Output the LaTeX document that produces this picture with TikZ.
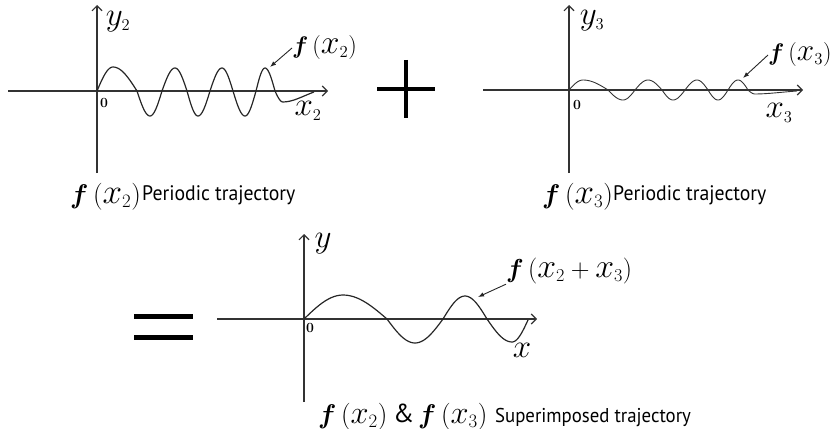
\RequirePackage{fix-cm}
\documentclass[tikz,border=0pt]{standalone}
\usepackage{graphicx}
\usepackage{fontspec}
\setsansfont{PT Sans}
\newfontfamily\capsans{PT Sans}[FakeStretch=0.94]
\usetikzlibrary{arrows.meta}
% quarter waves: crossing -> extremum, extremum -> crossing
\newcommand\wqa[4]{--plot[domain=0:90,samples=14,variable=\tq]({#1+(#3-#1)*\tq/90},{#2+(#4-#2)*sin(\tq)})}
\newcommand\wqb[4]{--plot[domain=0:90,samples=14,variable=\tq]({#1+(#3-#1)*\tq/90},{#4+(#2-#4)*cos(\tq)})}
\newcommand\boldf{\mbox{\boldmath$f$}}
\newcommand\wx[1]{\mbox{\scalebox{#1}{$x$}}}
\tikzset{
  axis/.style={draw=black!80, line width=1.1pt, -{Straight Barb[length=5pt,width=10pt]}},
  wave/.style={draw=black!85, line width=1.2pt, line join=round},
  thinwave/.style={draw=black!80, line width=0.9pt, line join=round},
  pointer/.style={draw=black!85, line width=0.9pt, -{Latex[length=6pt,width=4.5pt]}},
  mlabel/.style={inner sep=0pt, font=\fontsize{33}{37}\selectfont},
  flabel/.style={inner sep=0pt, font=\fontsize{24}{28}\selectfont},
  zero/.style={inner sep=0pt, font=\fontsize{14}{16}\selectfont\bfseries},
  capmath/.style={inner sep=0pt, anchor=base west, font=\fontsize{27}{31}\selectfont},
  captext/.style={inner sep=0pt, anchor=base west, font=\fontsize{21}{25}\selectfont\capsans},
  bar/.style={draw=black, line width=4.5pt},
}
\begin{document}
\begin{tikzpicture}[x=1pt,y=-1pt]
\useasboundingbox (0,0) rectangle (837,428);
% ---------- panel 1 ----------
\coordinate (a1l) at (8,91);  \coordinate (a1r) at (328,91);
\coordinate (a1b) at (97,173); \coordinate (a1t) at (97,5);
\draw[axis] (a1l) -- (a1r);
\draw[axis] (a1b) -- (a1t);
\draw[wave] (97,91) \wqa{97}{91}{113}{67} \wqb{113}{67}{137}{91}
  \wqa{137}{91}{150}{116} \wqb{150}{116}{162}{91}
  \wqa{162}{91}{175}{68} \wqb{175}{68}{187}{91}
  \wqa{187}{91}{198}{116} \wqb{198}{116}{210}{91}
  \wqa{210}{91}{222}{68} \wqb{222}{68}{233}{91}
  \wqa{233}{91}{245}{116} \wqb{245}{116}{256}{91}
  \wqa{256}{91}{265}{68} \wqb{265}{68}{275}{91}
  \wqa{275}{91}{283}{102} .. controls (293,102) and (303,96) .. (314,92);
\node[zero] (z1) at (104,103) {0};
\node[mlabel] (y2) at (118,22) {$y_{\scriptscriptstyle 2}$};
\node[mlabel] (x2) at (308,111) {$x_{\scriptscriptstyle 2}$};
\node[flabel, anchor=west] (f2) at (292,48) {$\boldf\,(\wx{1.4}_2)$};
\coordinate (p1) at (270,67);
\draw[pointer] (f2.west) -- (p1);
\node[capmath] (c1m) at (70,203) {$\boldf\,(\wx{1.3}_2)$};
\node[captext] (c1t) at (142,200) {Periodic trajectory};
% ---------- plus ----------
\coordinate (ph1) at (377,89); \coordinate (ph2) at (435,89);
\coordinate (pv1) at (406,60); \coordinate (pv2) at (406,118);
\draw[bar] (ph1) -- (ph2);
\draw[bar] (pv1) -- (pv2);
% ---------- panel 2 ----------
\coordinate (a2l) at (483,90);  \coordinate (a2r) at (803,90);
\coordinate (a2b) at (569,173); \coordinate (a2t) at (569,5);
\draw[axis] (a2l) -- (a2r);
\draw[axis] (a2b) -- (a2t);
\draw[thinwave] (569,90) \wqa{569}{90}{583}{80} \wqb{583}{80}{608}{90}
  \wqa{608}{90}{623}{100} \wqb{623}{100}{635}{90}
  \wqa{635}{90}{648}{80} \wqb{648}{80}{662}{90}
  \wqa{662}{90}{673}{100} \wqb{673}{100}{685}{90}
  \wqa{685}{90}{697}{80} \wqb{697}{80}{708}{90}
  \wqa{708}{90}{718}{100} \wqb{718}{100}{728}{90}
  \wqa{728}{90}{738}{80} \wqb{738}{80}{748}{90}
  \wqa{748}{90}{755}{94} .. controls (768,94) and (782,92) .. (797,91);
\node[zero] (z2) at (577,105) {0};
\node[mlabel] (y3) at (592,21) {$y_{\scriptscriptstyle 3}$};
\node[mlabel] (x3) at (779,113) {$x_{\scriptscriptstyle 3}$};
\node[flabel, anchor=west] (f3) at (768,55) {$\boldf\,(\wx{1.3}_3)$};
\coordinate (p2) at (743,78);
\draw[pointer] (f3.west) -- (p2);
\node[capmath] (c2m) at (542,203) {$\boldf\,(\wx{1.3}_3)$};
\node[captext] (c2t) at (613,200) {Periodic trajectory};
% ---------- equals ----------
\coordinate (e1) at (134,316); \coordinate (e2) at (193,316);
\coordinate (e3) at (134,337); \coordinate (e4) at (193,337);
\draw[bar, line width=5pt] (e1) -- (e2);
\draw[bar, line width=5pt] (e3) -- (e4);
% ---------- panel 3 ----------
\coordinate (a3l) at (217,319);  \coordinate (a3r) at (537,319);
\coordinate (a3b) at (304,402); \coordinate (a3t) at (304,234);
\draw[axis] (a3l) -- (a3r);
\draw[axis] (a3b) -- (a3t);
\draw[wave] (304,319) \wqa{304}{319}{343}{295} \wqb{343}{295}{387}{319}
  \wqa{387}{319}{415}{343} \wqb{415}{343}{443}{319}
  \wqa{443}{319}{465}{296} \wqb{465}{296}{487}{319}
  \wqa{487}{319}{512}{342} \wqb{512}{342}{528}{320};
\node[zero] (z3) at (310,328) {0};
\node[mlabel] (y) at (323,244) {$y$};
\node[mlabel] (x) at (522,350) {$x$};
\node[flabel, anchor=west, font=\fontsize{26}{30}\selectfont] (f23) at (506,271) {$\boldf\,(\wx{1.3}_2+\wx{1.3}_3)$};
\coordinate (p3) at (478,297);
\draw[pointer] (f23.south west) -- (p3);
\node[capmath] (c3a) at (318,423) {$\boldf\,(\wx{1.2}_2)$};
\node[capmath, font=\fontsize{26}{30}\selectfont\sffamily] (c3b) at (393,422) {\&};
\node[capmath] (c3c) at (418,423) {$\boldf\,(\wx{1.2}_3)$};
\node[captext, font=\fontsize{20}{24}\selectfont\capsans] (c3t) at (495,422) {Superimposed trajectory};
\end{tikzpicture}
\end{document}
